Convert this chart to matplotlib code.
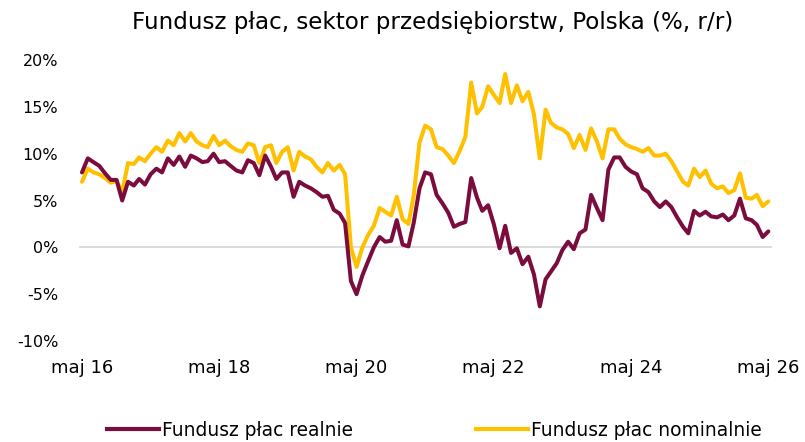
import matplotlib
matplotlib.use("Agg")
import matplotlib.pyplot as plt
import pandas as pd
from matplotlib.lines import Line2D

plt.rcParams['font.family'] = ['DejaVu Sans']

title = "Fundusz płac, sektor przedsiębiorstw, Polska (%, r/r)"
series_names = ["Fundusz płac realnie", "Fundusz płac nominalnie"]
start_month = "2016-05-01"

nominal = [
    7.0, 8.4, 8.0, 7.8, 7.4, 6.9, 7.1, 5.9, 9.0, 8.9,
    9.6, 9.2, 10.0, 10.7, 10.2, 11.4, 10.9, 12.2, 11.3, 12.2,
    11.3, 10.9, 10.7, 11.9, 10.9, 11.4, 10.8, 10.4, 10.2, 11.1,
    10.9, 9.0, 10.7, 10.9, 9.0, 10.2, 10.7, 8.2, 10.2, 9.7,
    9.4, 8.6, 8.0, 9.0, 8.2, 8.8, 7.8, 0.0, -2.1, 0.0,
    1.3, 2.3, 4.2, 3.8, 3.4, 5.4, 3.0, 2.5, 5.5, 11.2,
    13.0, 12.6, 10.7, 10.5, 9.8, 9.0, 10.3, 11.8, 17.6, 14.3,
    15.0, 17.2, 16.3, 15.4, 18.5, 15.4, 17.3, 15.6, 16.6, 14.2,
    9.5, 14.7, 13.3, 12.8, 12.6, 12.1, 10.6, 12.0, 10.4, 12.7,
    11.3, 9.5, 12.6, 12.6, 11.6, 11.0, 10.7, 10.5, 10.2, 10.6,
    9.8, 9.8, 10.0, 9.2, 8.1, 7.0, 6.6, 8.4, 7.5, 8.2,
    6.8, 6.3, 6.5, 5.8, 6.1, 7.9, 5.3, 5.2, 5.6, 4.4,
    4.9,
]

real = [
    8.0, 9.5, 9.1, 8.7, 7.9, 7.2, 7.2, 5.0, 7.0, 6.6,
    7.3, 6.7, 7.8, 8.4, 8.0, 9.5, 8.8, 9.7, 8.6, 9.8,
    9.5, 9.1, 9.2, 10.0, 9.1, 9.2, 8.7, 8.2, 8.0, 9.3,
    9.0, 7.7, 9.8, 8.6, 7.3, 8.0, 8.0, 5.4, 7.0, 6.6,
    6.3, 5.9, 5.4, 5.5, 4.0, 3.6, 2.6, -3.6, -5.0, -3.0,
    -1.5, 0.0, 1.1, 0.6, 0.7, 2.9, 0.3, 0.1, 2.6, 6.3,
    8.0, 7.8, 5.6, 4.7, 3.7, 2.2, 2.5, 2.7, 7.4, 5.3,
    3.9, 4.5, 2.5, -0.1, 2.3, -0.6, -0.1, -1.8, -1.0, -2.9,
    -6.3, -3.4, -2.6, -1.7, -0.3, 0.6, -0.2, 1.5, 1.9, 5.6,
    4.2, 2.9, 8.3, 9.6, 9.6, 8.6, 8.1, 7.8, 6.3, 5.9,
    4.9, 4.3, 4.9, 4.3, 3.2, 2.2, 1.5, 3.9, 3.4, 3.8,
    3.3, 3.2, 3.5, 2.9, 3.4, 5.2, 3.1, 2.9, 2.4, 1.1,
    1.7,
]

tick_dates = ["2016-05-01", "2018-05-01", "2020-05-01", "2022-05-01", "2024-05-01", "2026-05-01"]
tick_labels = ["maj 16", "maj 18", "maj 20", "maj 22", "maj 24", "maj 26"]
y_ticks = [-10, -5, 0, 5, 10, 15, 20]

dates = pd.date_range(start_month, periods=len(nominal), freq="MS")

c_real = "#7B0C3E"
c_nom = "#FFC000"

fig = plt.figure(figsize=(8.05, 4.42), dpi=100)
ax = fig.add_axes([0.0981, 0.2285, 0.861, 0.6357])

ax.axhline(0, color="#D9D9D9", lw=1.3, zorder=1)
ax.plot(dates, nominal, color=c_nom, lw=2.9, solid_joinstyle="round", solid_capstyle="round", zorder=3)
ax.plot(dates, real, color=c_real, lw=2.9, solid_joinstyle="round", solid_capstyle="round", zorder=4)

ax.set_ylim(-10, 20)
ax.set_yticks(y_ticks)
ax.set_yticklabels([f"{v}%" for v in y_ticks])
ax.set_xlim(dates[0] - pd.Timedelta(days=16), dates[-1] + pd.Timedelta(days=20))
ax.set_xticks(pd.to_datetime(tick_dates))
ax.set_xticklabels(tick_labels)

for s in ax.spines.values():
    s.set_visible(False)
ax.tick_params(axis="both", length=0, colors="black")
ax.tick_params(axis="y", pad=15, labelsize=11.5)
ax.tick_params(axis="x", pad=13, labelsize=13)

fig.text(0.537, 0.95, title, ha="center", va="center", fontsize=16.6)

handles = [Line2D([], [], color=c_real, lw=3), Line2D([], [], color=c_nom, lw=3)]
fig.legend(handles, series_names, loc="center", bbox_to_anchor=(0.54, 0.027), ncol=2,
           frameon=False, fontsize=13.4, handlelength=2.8, handletextpad=0.16, columnspacing=6.6)

fig.savefig("out.png", dpi=100)
